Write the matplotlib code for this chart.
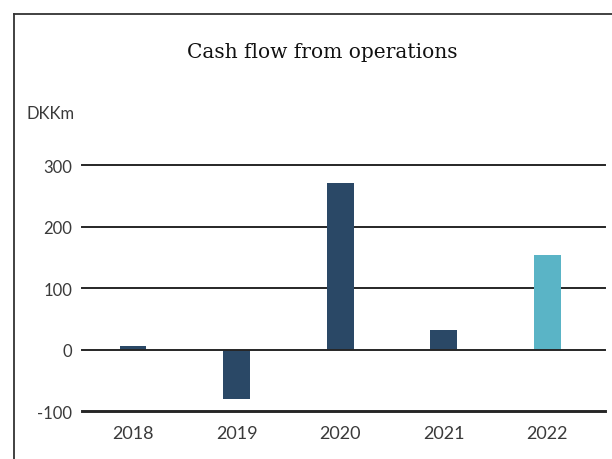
import matplotlib.pyplot as plt
from matplotlib.lines import Line2D

years = ["2018", "2019", "2020", "2021", "2022"]
cash_flow = [5, -80, 270, 31, 153]
bar_colors = ["#2a4866", "#2a4866", "#2a4866", "#2a4866", "#5ab4c6"]
y_ticks = [-100, 0, 100, 200, 300]

fig = plt.figure(figsize=(6.12, 4.6), dpi=100)
ax = fig.add_axes([0.134, 0.1043, 0.8546, 0.5348])

x = range(len(years))
ax.bar(x, cash_flow, width=0.26, color=bar_colors, zorder=3)

for t in y_ticks:
    lw = 2.1 if t == -100 else 1.4
    ax.axhline(t, color="#262626", lw=lw, zorder=4 if t == 0 else 2,
               clip_on=False)

ax.set_xlim(-0.493, 4.56)
ax.set_ylim(-100, 300)
ax.set_yticks(y_ticks)
ax.set_yticklabels([str(t) for t in y_ticks], fontsize=12, color="#3a3a3a",
                   fontfamily="Lato")
ax.set_xticks(list(x))
ax.set_xticklabels(years, fontsize=13, color="#3a3a3a", fontfamily="Lato")
ax.tick_params(axis="y", length=0, pad=7)
ax.tick_params(axis="x", length=0, pad=10)
for s in ax.spines.values():
    s.set_visible(False)

fig.text(0.526, 0.885, "Cash flow from operations", ha="center", va="center",
         fontsize=14.5, fontfamily="DejaVu Serif", color="#111111")
fig.text(0.044, 0.752, "DKKm", ha="left", va="center", fontsize=12,
         fontfamily="Lato", color="#3a3a3a")

# outer frame
fig.add_artist(Line2D([0.023, 1.0], [0.967, 0.967], color="#333333", lw=1.3))
fig.add_artist(Line2D([0.023, 0.023], [0.0, 0.967], color="#333333", lw=1.3))

fig.savefig("out.png", dpi=100)
